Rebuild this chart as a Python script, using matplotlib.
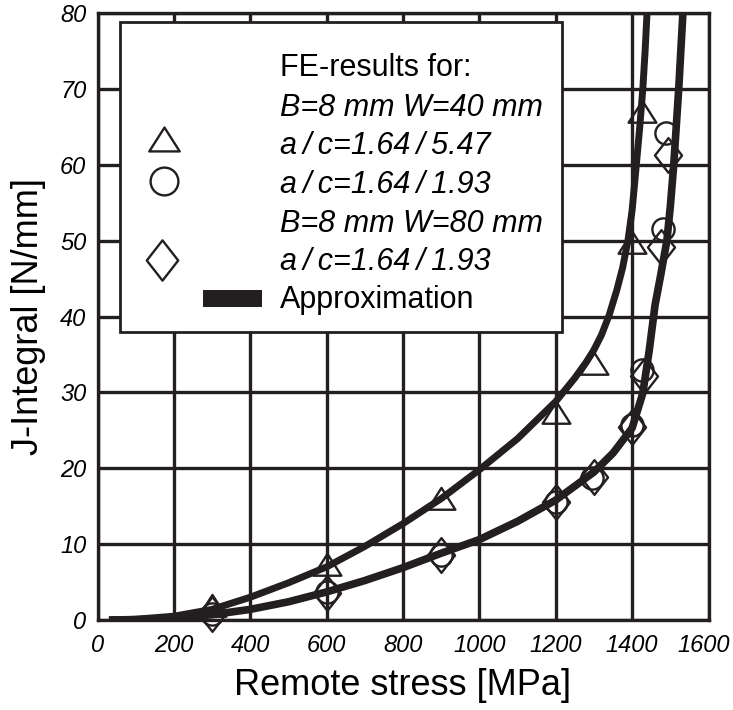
import numpy as np
import matplotlib.pyplot as plt
import matplotlib.transforms as mtransforms
from matplotlib.path import Path
from matplotlib.patches import Rectangle

plt.rcParams['font.family'] = ['Liberation Sans', 'DejaVu Sans']

# FE results, B=8 mm W=40 mm, a/c=1.64/5.47 (triangles)
stress_tri = [300, 600, 900, 1200, 1300, 1400, 1425]
J_tri = [1.4, 6.9, 15.6, 26.9, 33.3, 49.3, 66.5]

# FE results, B=8 mm W=40 mm, a/c=1.64/1.93 (circles)
stress_circ = [300, 600, 900, 1200, 1295, 1400, 1425, 1480, 1488]
J_circ = [0.8, 3.7, 8.6, 15.6, 18.7, 25.7, 32.9, 51.5, 64.2]

# FE results, B=8 mm W=80 mm, a/c=1.64/1.93 (diamonds)
stress_dia = [300, 600, 900, 1200, 1300, 1400, 1432, 1476, 1494]
J_dia = [0.8, 3.5, 8.6, 15.5, 18.9, 25.5, 32.2, 49.1, 61.3]

# approximation curves
approx1_x = [30, 100, 200, 300, 400, 500, 600, 700, 800, 900, 1000, 1100, 1200,
             1250, 1280, 1300, 1320, 1340, 1360, 1375, 1389, 1400, 1411, 1420,
             1428, 1434, 1439]
approx1_y = [0, 0.1, 0.5, 1.4, 3.0, 4.9, 7.0, 9.7, 12.7, 16.0, 19.8, 23.9, 28.8,
             31.9, 34.0, 35.6, 37.6, 40.2, 43.5, 46.4, 50, 54, 60, 65,
             70, 75, 80]
approx2_x = [30, 100, 200, 300, 400, 500, 600, 700, 800, 900, 1000, 1100, 1200,
             1300, 1350, 1400, 1428, 1445, 1460, 1475, 1491, 1500, 1509, 1522, 1533]
approx2_y = [0, 0.05, 0.2, 0.7, 1.4, 2.4, 3.7, 5.2, 6.9, 8.8, 10.6, 13.0, 15.8,
             19.5, 22.0, 25.3, 29.9, 35.6, 41.5, 45.5, 50, 54.5, 60, 70, 80]

xticks = [0, 200, 400, 600, 800, 1000, 1200, 1400, 1600]
yticks = [0, 10, 20, 30, 40, 50, 60, 70, 80]

ink = '#231f20'

tri = Path([(0, 1.05), (-1, -0.52), (1, -0.52), (0, 1.05)],
           [Path.MOVETO, Path.LINETO, Path.LINETO, Path.CLOSEPOLY])
dia = Path([(0, 1), (0.78, 0), (0, -1), (-0.78, 0), (0, 1)],
           [Path.MOVETO, Path.LINETO, Path.LINETO, Path.LINETO, Path.CLOSEPOLY])

fig = plt.figure(figsize=(7.33, 7.10), dpi=100)
ax = fig.add_axes([97.5/733, 90/710, 611/733, 607/710])


def pos(x, y):
    # pixel position in the figure -> axes fraction
    return (x - 97.5) / 611, (620 - y) / 607


ax.set_xlim(0, 1600)
ax.set_ylim(0, 80)
ax.set_xticks(xticks)
ax.set_yticks(yticks)
ax.set_xticklabels([str(t) for t in xticks], fontsize=17, style='italic')
ax.set_yticklabels([str(t) for t in yticks], fontsize=17, style='italic')
ax.tick_params(axis='x', length=0, pad=10, colors='black')
ax.tick_params(axis='y', length=0, pad=8, colors='black')
ax.grid(True, color=ink, linewidth=2.4)
ax.set_axisbelow(True)
for s in ax.spines.values():
    s.set_linewidth(2.4)
    s.set_color(ink)

# keep the last x label inside the figure
last = ax.get_xticklabels()[-1]
last.set_transform(last.get_transform() +
                   mtransforms.ScaledTranslation(-0.05, 0, fig.dpi_scale_trans))

ax.set_xlabel('Remote stress [MPa]', fontsize=26, labelpad=8)
ax.set_ylabel('J-Integral [N/mm]', fontsize=26, labelpad=10)

# legend box
x0, y0 = pos(120, 332)
x1, y1 = pos(562, 22)
ax.add_patch(Rectangle((x0, y0), x1 - x0, y1 - y0, transform=ax.transAxes,
                       facecolor='white', edgecolor=ink, linewidth=2.0, zorder=2))

ax.plot(approx1_x, approx1_y, color=ink, lw=5, solid_capstyle='butt',
        solid_joinstyle='round', zorder=4)
ax.plot(approx2_x, approx2_y, color=ink, lw=5.5, solid_capstyle='butt',
        solid_joinstyle='round', zorder=4)

mk = dict(linestyle='none', markerfacecolor='none', markeredgecolor=ink,
          markeredgewidth=1.7, zorder=5, clip_on=False)
ax.plot(stress_tri, J_tri, marker=tri, markersize=21, **mk)
ax.plot(stress_circ, J_circ, marker='o', markersize=16, **mk)
ax.plot(stress_dia, J_dia, marker=dia, markersize=25, **mk)

# legend content
tx = 280
lines = [(68, 'FE-results for:', 'normal'),
         (108, 'B=8 mm W=40 mm', 'italic'),
         (146, 'a\u2009/\u2009c=1.64\u2009/\u20095.47', 'italic'),
         (185, 'a\u2009/\u2009c=1.64\u2009/\u20091.93', 'italic'),
         (224, 'B=8 mm W=80 mm', 'italic'),
         (262, 'a\u2009/\u2009c=1.64\u2009/\u20091.93', 'italic'),
         (300, 'Approximation', 'normal')]
for y, s, st in lines:
    ax.text(*pos(tx, y), s, transform=ax.transAxes, fontsize=22, style=st,
            ha='left', va='center', zorder=6)

lk = dict(linestyle='none', markerfacecolor='none', markeredgecolor=ink,
          markeredgewidth=1.7, zorder=6, transform=ax.transAxes, clip_on=False)
ax.plot(*pos(164, 143), marker=tri, markersize=23, **lk)
ax.plot(*pos(164, 181), marker='o', markersize=20, **lk)
ax.plot(*pos(162, 260), marker=dia, markersize=29, **lk)
r0 = pos(203, 307)
r1 = pos(262, 290)
ax.add_patch(Rectangle(r0, r1[0] - r0[0], r1[1] - r0[1], transform=ax.transAxes,
                       facecolor=ink, edgecolor='none', zorder=6))

fig.savefig('out.png', dpi=100)
